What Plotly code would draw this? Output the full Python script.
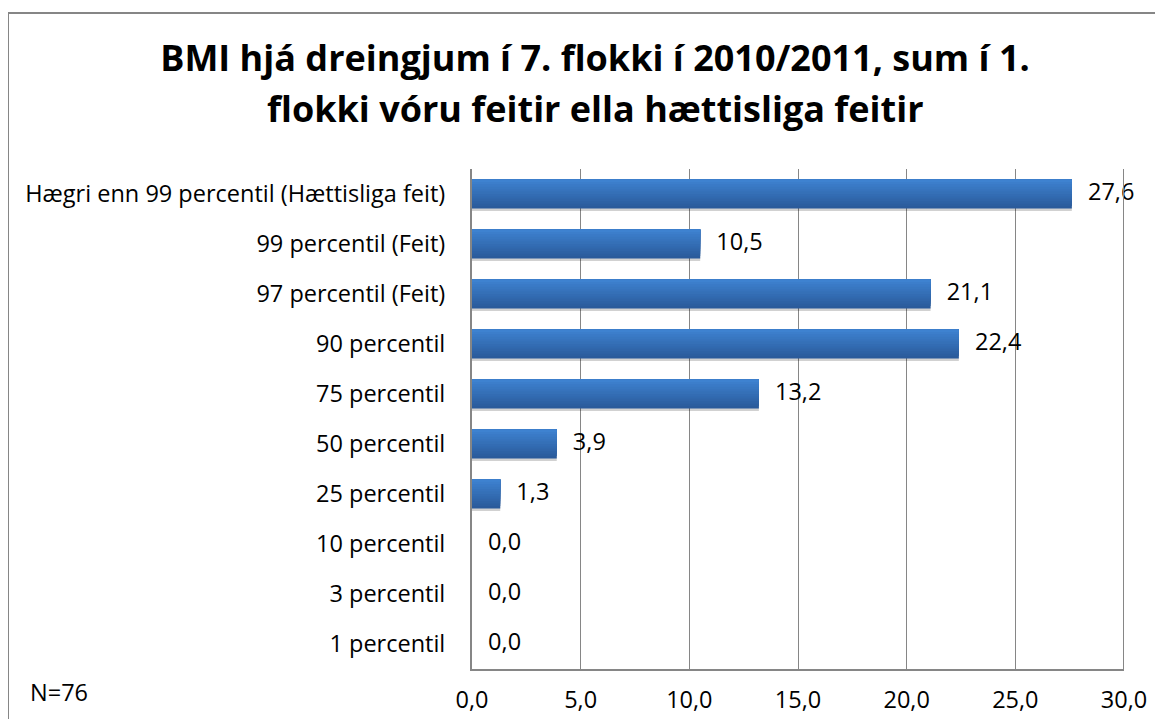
import plotly.graph_objects as go

categories = [
    "Hægri enn 99 percentil (Hættisliga feit)",
    "99 percentil (Feit)",
    "97 percentil (Feit)",
    "90 percentil",
    "75 percentil",
    "50 percentil",
    "25 percentil",
    "10 percentil",
    "3 percentil",
    "1 percentil",
]
values = [27.6, 10.5, 21.1, 22.4, 13.2, 3.9, 1.3, 0.0, 0.0, 0.0]
x_ticks = [0, 5, 10, 15, 20, 25, 30]

title_line1 = "BMI hjá dreingjum í 7. flokki í 2010/2011, sum í 1."
title_line2 = "flokki vóru feitir ella hættisliga feitir"
note_text = "N=76"

# page body has an 8px margin; figure coords = reference coords - 8
OFF = 8
W, H = 1163 - 2 * OFF, 727 - 2 * OFF
L = 472 - OFF
T = 169 - OFF
R = W - (1124 - OFF)
B = H - (669 - OFF)
pw, ph = W - L - R, H - T - B

FONT = "'Open Sans', sans-serif"
FS = 23.5
TFS = 36

fig = go.Figure()

bar_w = 0.58
# soft shadow
fig.add_trace(go.Bar(
    x=values, y=categories, orientation="h",
    width=bar_w, offset=-bar_w / 2 - 0.05,
    marker=dict(color="rgba(0,0,0,0.18)", line=dict(width=0)),
    hoverinfo="skip", showlegend=False,
))

# gradient-like bars: overlay layers, each anchored to the top edge of the bar
n_layers = 12
dark = (43, 91, 155)
light = (62, 130, 208)
for k in range(n_layers):
    f = k / (n_layers - 1)
    c = tuple(int(dark[i] + (light[i] - dark[i]) * f) for i in range(3))
    w = bar_w * (1 - k / n_layers)
    fig.add_trace(go.Bar(
        x=values, y=categories, orientation="h",
        width=w, offset=bar_w / 2 - w,
        marker=dict(color="rgb(%d,%d,%d)" % c, line=dict(width=0)),
        hoverinfo="skip", showlegend=False,
    ))

# value labels
fig.add_trace(go.Scatter(
    x=values, y=categories, mode="text",
    text=["  \u2009" + ("%.1f" % v).replace(".", ",") for v in values],
    textposition="middle right",
    textfont=dict(family=FONT, size=FS, color="black"),
    hoverinfo="skip", showlegend=False, cliponaxis=False,
))

fig.update_layout(
    width=W, height=H,
    margin=dict(l=L, r=R, t=T, b=B, pad=0, autoexpand=False),
    paper_bgcolor="white", plot_bgcolor="white",
    barmode="overlay",
    separators=",.",
    title=dict(text="<b>" + title_line1 + "</b>", x=(595 - OFF) / W, xanchor="center",
               y=1 - (58 - OFF) / H, yanchor="middle",
               font=dict(family=FONT, size=TFS, color="black")),
    xaxis=dict(range=[0, 30], tickvals=x_ticks, tickformat=".1f",
               showgrid=True, gridcolor="#868686", gridwidth=1,
               showline=True, linecolor="#868686", linewidth=2,
               ticks="", ticklabelstandoff=9, zeroline=False, automargin=False,
               tickfont=dict(family=FONT, size=FS, color="black"), fixedrange=True),
    yaxis=dict(categoryorder="array", categoryarray=categories[::-1],
               showline=True, linecolor="#868686", linewidth=2,
               showgrid=False, ticks="", ticklabelstandoff=20, automargin=False,
               tickfont=dict(family=FONT, size=FS, color="black"), fixedrange=True),
    font=dict(family=FONT),
    annotations=[
        dict(text="<b>" + title_line2 + "</b>", xref="paper", yref="paper",
             x=(595 - OFF - L) / pw, y=1 + (169 - 108) / ph,
             xanchor="center", yanchor="middle", showarrow=False,
             font=dict(family=FONT, size=TFS, color="black")),
        dict(text=note_text, xref="paper", yref="paper",
             x=(28 - OFF - L) / pw, y=(669 - 692) / ph,
             xanchor="left", yanchor="middle",
             showarrow=False, font=dict(family=FONT, size=FS, color="black")),
    ],
    shapes=[
        dict(type="rect", xref="paper", yref="paper",
             x0=(8 - OFF - L) / pw, x1=(W + 10 - L) / pw,
             y0=-(B + 10) / ph, y1=1 + (169 - 13) / ph,
             line=dict(color="#868686", width=2), fillcolor="rgba(0,0,0,0)", layer="below"),
        dict(type="line", xref="x", yref="paper", x0=30, x1=30, y0=0, y1=1,
             line=dict(color="#868686", width=2)),
    ],
)

fig.write_html("out.html")
